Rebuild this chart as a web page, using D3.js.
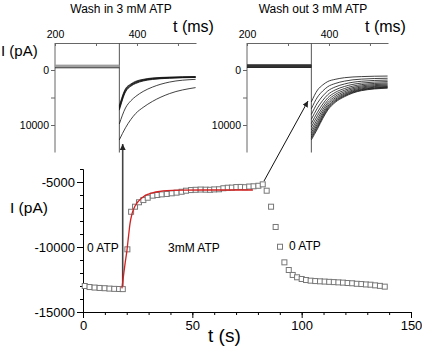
<!DOCTYPE html>
<html>
<head>
<meta charset="utf-8">
<script src="https://cdn.jsdelivr.net/npm/d3@7"></script>
<style>
  body { margin: 0; background: #fff; }
  svg { display: block; font-family: "Liberation Sans", Arial, sans-serif; }
</style>
</head>
<body>
<script>
// main recording: time (s) and current (pA)
var timeS = [0.8, 3.0, 5.3, 7.6, 9.9, 12.1, 14.3, 16.5, 18.2,
  20.3, 22.0, 23.8, 25.6, 27.6, 29.6, 31.9, 34.0, 36.0, 38.3, 40.6, 42.8, 45.1, 47.1, 49.4,
  51.5, 53.8, 56.1, 58.1, 60.0, 62.2, 64.2, 66.2, 68.1, 70.1, 72.1, 74.1, 76.0, 78.0, 80.2, 82.2,
  84.0, 86.0, 88.1, 90.1, 92.1, 94.1, 95.9, 97.9, 100.0, 102.0, 104.1, 106.2, 108.4, 110.5,
  112.6, 114.7, 116.8, 118.9, 121.0, 123.1, 125.2, 127.3, 129.4, 131.5, 133.6, 135.8, 138.0];
var currentPA = [-13000, -13080, -13120, -13150, -13170, -13200, -13220, -13230, -13240,
  -10180, -7290, -6900, -6560, -6390, -6210, -6050, -6000, -5950, -5920, -5870, -5820, -5750, -5670, -5620,
  -5600, -5580, -5590, -5600, -5570, -5560, -5480, -5440, -5430, -5390, -5380, -5400, -5350, -5330, -5290, -5180,
  -5670, -6900, -8460, -9980, -11180, -11770, -12150, -12330, -12460, -12540, -12590, -12620, -12640, -12660,
  -12680, -12700, -12720, -12740, -12770, -12790, -12830, -12850, -12880, -12900, -12950, -12990, -13050];

// exponential fit (red)
var fitT = [17.8, 18.6, 19.3, 20.0, 20.8, 21.5, 22.5, 23.8, 25.5, 27.6, 30, 32.1, 35, 38.3, 45, 55, 77.7];
var fitI = [-13180, -12100, -11200, -10400, -9200, -8200, -7400, -6850, -6450, -6130, -5930, -5820, -5730, -5670, -5630, -5615, -5615];

// inset current traces (ms / pA)
var insetT = [357, 372, 385, 397, 415, 438, 479, 543];
var washInBase = [-900, -820, -750, -680, -600, -520, -400];
var washInTraces = [
  [6500, 3400, 2550, 2050, 1700, 1450, 1300, 1200],
  [6700, 3550, 2650, 2150, 1780, 1520, 1350, 1250],
  [6900, 3700, 2750, 2250, 1850, 1580, 1400, 1280],
  [7100, 3850, 2850, 2350, 1920, 1650, 1450, 1320],
  [7300, 4000, 2950, 2450, 2000, 1720, 1500, 1360],
  [9800, 6900, 5600, 4800, 3900, 3100, 2200, 1700],
  [12700, 10500, 9000, 7900, 6800, 5700, 4300, 3200]
];
var washOutBase = [-950, -900, -860, -820, -780, -740, -700, -660, -620, -570, -520, -460];
var washOutTraces = [
  [5800, 3650, 2700, 2100, 1700, 1400, 1200, 1100],
  [7040, 4920, 3800, 3040, 2460, 2020, 1660, 1500],
  [8080, 5980, 4710, 3820, 3090, 2540, 2050, 1830],
  [8970, 6890, 5510, 4490, 3630, 2990, 2380, 2110],
  [9730, 7670, 6180, 5060, 4090, 3370, 2660, 2350],
  [10350, 8300, 6730, 5530, 4470, 3680, 2890, 2550],
  [10910, 8870, 7210, 5950, 4810, 3950, 3090, 2730],
  [11390, 9360, 7640, 6310, 5100, 4200, 3270, 2880],
  [11800, 9780, 8010, 6620, 5350, 4400, 3430, 3010],
  [12150, 10140, 8310, 6880, 5560, 4570, 3560, 3120],
  [12420, 10420, 8560, 7090, 5730, 4710, 3660, 3210],
  [12700, 10700, 8800, 7300, 5900, 4850, 3760, 3300]
];

var W = 422, H = 347;
var svg = d3.select("body").append("svg")
    .attr("width", W)
    .attr("height", H);

svg.append("defs").append("marker")
    .attr("id", "head")
    .attr("viewBox", "0 0 10 10")
    .attr("refX", 10).attr("refY", 5)
    .attr("markerWidth", 6).attr("markerHeight", 6)
    .attr("markerUnits", "userSpaceOnUse")
    .attr("orient", "auto")
  .append("path")
    .attr("d", "M0,0L10,5L0,10z")
    .attr("fill", "#222");

// ---------- main plot ----------
var x = d3.scaleLinear().domain([0, 150]).range([83, 411]);
var y = d3.scaleLinear().domain([-15000, -4000]).range([312, 169]);

var xMinor = svg.append("g")
    .attr("transform", "translate(0,312)")
    .call(d3.axisBottom(x).tickValues(d3.range(0, 151, 10)).tickSize(3).tickSizeOuter(0).tickFormat(""));
var xAxis = svg.append("g")
    .attr("transform", "translate(0,312)")
    .call(d3.axisBottom(x).tickValues([0, 50, 100, 150]).tickSize(6).tickSizeOuter(0).tickPadding(3));
xAxis.selectAll("text").style("font-size", "13px").attr("fill", "#000");

var yMinor = svg.append("g")
    .attr("transform", "translate(83,0)")
    .call(d3.axisLeft(y).tickValues(d3.range(-15000, -3999, 1000)).tickSize(3).tickSizeOuter(0).tickFormat(""));
var yAxis = svg.append("g")
    .attr("transform", "translate(83,0)")
    .call(d3.axisLeft(y).tickValues([-15000, -10000, -5000]).tickSize(6).tickSizeOuter(0).tickPadding(2)
      .tickFormat(function(d) { return d; }));
yAxis.selectAll("text").style("font-size", "13px").attr("fill", "#000");

svg.selectAll(".domain, .tick line").attr("stroke", "#000");

svg.append("text").attr("x", 10).attr("y", 213)
    .style("font-size", "15.5px").text("I (pA)");
svg.append("text").attr("x", 208).attr("y", 342)
    .style("font-size", "19px").text("t (s)");

svg.append("text").attr("x", 87).attr("y", 251.5).style("font-size", "12px").text("0 ATP");
svg.append("text").attr("x", 168).attr("y", 251.5).style("font-size", "12px").text("3mM ATP");
svg.append("text").attr("x", 289).attr("y", 249.5).style("font-size", "12px").text("0 ATP");

// arrows to insets
svg.append("line")
    .attr("x1", 122.7).attr("y1", 288).attr("x2", 122.7).attr("y2", 144)
    .attr("stroke", "#444").attr("stroke-width", 1.6)
    .attr("marker-end", "url(#head)");
svg.append("line")
    .attr("x1", 264).attr("y1", 181).attr("x2", 308).attr("y2", 101)
    .attr("stroke", "#111").attr("stroke-width", 1)
    .attr("marker-end", "url(#head)");

var pts = timeS.map(function(t, i) { return {t: t, v: currentPA[i]}; });
svg.selectAll(".dot")
    .data(pts)
  .enter().append("rect")
    .attr("class", "dot")
    .attr("x", function(d) { return x(d.t) - 2.5; })
    .attr("y", function(d) { return y(d.v) - 2.5; })
    .attr("width", 5).attr("height", 5)
    .attr("fill", "#fff")
    .attr("stroke", "#777")
    .attr("stroke-width", 1);

var fitLine = d3.line()
    .x(function(d, i) { return x(fitT[i]); })
    .y(function(d) { return y(d); })
    .curve(d3.curveMonotoneX);
svg.append("path")
    .attr("d", fitLine(fitI))
    .attr("fill", "none")
    .attr("stroke", "#d42020")
    .attr("stroke-width", 1.3);

// ---------- insets ----------
function inset(left, title, traces, base, showYLabel, baseColor) {
  var xs = d3.scaleLinear().domain([200, 544]).range([left, left + 141]);
  var ys = d3.scaleLinear().domain([-5000, 15000]).range([42.5, 152.5]);
  var g = svg.append("g");

  var top = g.append("g")
      .attr("transform", "translate(0,43)")
      .call(d3.axisTop(xs).tickValues([200, 300, 400, 500]).tickSize(-3).tickSizeOuter(0).tickPadding(5)
        .tickFormat(function(d) { return d % 200 === 0 ? d : ""; }));
  top.selectAll("text").style("font-size", "10.5px").attr("fill", "#000");

  var lft = g.append("g")
      .attr("transform", "translate(" + left + ",0)")
      .call(d3.axisLeft(ys).tickValues([0, 5000, 10000]).tickSize(4).tickSizeOuter(0).tickPadding(2)
        .tickFormat(function(d) { return d === 5000 ? "" : d; }));
  lft.selectAll("text").style("font-size", "10.5px").attr("fill", "#000");
  lft.select(".domain").attr("d", "M0,43V152.5");
  g.selectAll(".domain, .tick line").attr("stroke", "#666");

  // step line
  g.append("line")
      .attr("x1", xs(357)).attr("x2", xs(357))
      .attr("y1", 43).attr("y2", 152.5)
      .attr("stroke", "#555").attr("stroke-width", 1);

  g.selectAll(".base")
      .data(base)
    .enter().append("line")
      .attr("x1", xs(200)).attr("x2", xs(357))
      .attr("y1", function(d) { return ys(d); })
      .attr("y2", function(d) { return ys(d); })
      .attr("stroke", function(d, i) { return i === base.length - 1 ? "#111" : baseColor; })
      .attr("stroke-width", 0.8);

  var line = d3.line()
      .x(function(d, i) { return xs(insetT[i]); })
      .y(function(d) { return ys(d); })
      .curve(d3.curveMonotoneX);
  g.selectAll(".trace")
      .data(traces)
    .enter().append("path")
      .attr("d", line)
      .attr("fill", "none")
      .attr("stroke", "#111")
      .attr("stroke-width", 0.8);

  g.append("text").attr("x", left + 66).attr("y", 12.5)
      .attr("text-anchor", "middle").style("font-size", "12px").text(title);
  g.append("text").attr("x", left + 118).attr("y", 32)
      .style("font-size", "16px").text("t (ms)");
  if (showYLabel) {
    g.append("text").attr("x", 1).attr("y", 56)
        .style("font-size", "15px").text("I (pA)");
  }
}

inset(55, "Wash in 3 mM ATP", washInTraces, washInBase, true, "#999");
inset(247, "Wash out 3 mM ATP", washOutTraces, washOutBase, false, "#333");
</script>
</body>
</html>
